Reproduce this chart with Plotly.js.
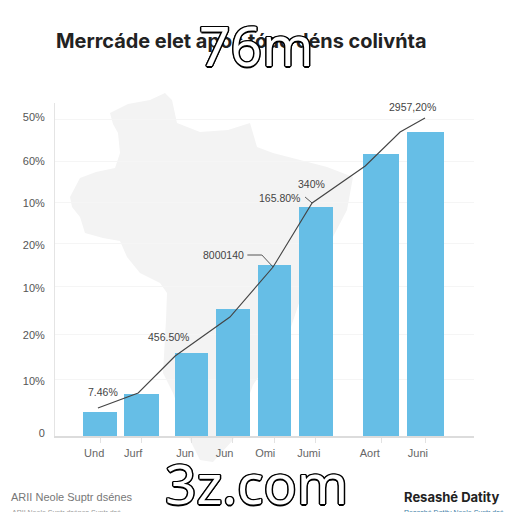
<!DOCTYPE html>
<html>
<head>
<meta charset="utf-8">
<script src="https://cdn.plot.ly/plotly-3.0.1.min.js"></script>
<style>html,body{margin:0;padding:0;background:#fff}#chart{width:512px;height:512px}</style>
</head>
<body>
<div id="chart"></div>
<script>
const W = 512;
const titleText = "Merrcáde elet apos tóao déns colivńta";
const categories = ["Und", "Jurf", "Jun", "Jun", "Omi", "Jumi", "Aort", "Juni"];
const barPositions = [1, 2, 3.2, 4.2, 5.2, 6.2, 7.78, 8.85];
const barWidths = [0.82, 0.82, 0.8, 0.82, 0.8, 0.82, 0.87, 0.89];
const barValues = [24, 42, 83, 127, 171, 229, 282, 304];
const labelPositions = [0.86, 1.8, 3.05, 4.0, 4.98, 6.03, 7.5, 8.66];
const lineX = [0.95, 1.92, 2.81, 4.13, 5.17, 6.11, 7.39, 8.23, 8.83];
const lineY = [28, 43, 80, 119, 169, 233, 270, 304, 318];
const gridValues = [57, 102, 150, 193, 234, 275, 317];
const yLabelValues = [3, 55, 101, 148, 191, 233, 275, 319];
const yLabels = ["0", "10%", "20%", "10%", "20%", "10%", "60%", "50%"];
const mapX = [165,150,128,110,113,118,120,115,96,80,70,72,80,85,103,120,127,140,160,167,166,165,163,173,183,190,200,213,233,253,270,285,300,337,347,353,327,273,257,250,228,200,177,172,165];
const mapY = [93,100,104,113,124,133,153,168,172,178,197,207,217,233,238,241,257,273,283,293,320,340,373,393,420,440,460,462,440,385,360,345,300,230,210,177,167,153,147,123,130,132,123,100,93];
const leaderA = {x:[4.55,4.9,5.17], y:[181,181,169]};
const leaderB = {x:[5.94,6.11], y:[239,233]};
const dataLabels = [
  {t:"7.46%", px:103, py:392},
  {t:"456.50%", px:168, py:337},
  {t:"8000140", px:223, py:255},
  {t:"165.80%", px:279, py:198},
  {t:"340%", px:311, py:184},
  {t:"2957,20%", px:412, py:107}
];

const labelAnn = dataLabels.map(d => ({
  text:d.t, xref:"paper", yref:"paper", x:d.px/W, y:1-d.py/W, showarrow:false,
  xanchor:"center", yanchor:"middle", font:{family:"Liberation Sans", size:10.5, color:"#444"}
}));
const outline = "1.5px 0 0 #000,-1.5px 0 0 #000,0 1.5px 0 #000,0 -1.5px 0 #000,1px 1px 0 #000,-1px 1px 0 #000,1px -1px 0 #000,-1px -1px 0 #000";
const mark = (t, px, py) => ({
  text:t, xref:"paper", yref:"paper", x:px/W, y:1-py/W, showarrow:false, xanchor:"center", yanchor:"middle",
  font:{family:"Noto Sans", size:55, color:"#fff", shadow:outline}
});
const foot = (t, px, py, size, color, family, bold) => ({
  text: bold ? "<b>"+t+"</b>" : t, xref:"paper", yref:"paper", x:px/W, y:1-py/W, showarrow:false,
  xanchor:"left", yanchor:"middle", font:{family:family, size:size, color:color}
});

const traces = [
  {type:"scatter", mode:"lines", x:mapX, y:mapY, xaxis:"x", yaxis:"y", fill:"toself",
   fillcolor:"#f3f3f3", line:{width:0, color:"#f3f3f3"}, hoverinfo:"skip", showlegend:false},
  {type:"bar", x:barPositions, y:barValues, width:barWidths, xaxis:"x2", yaxis:"y2",
   marker:{color:"#66bee6", line:{width:0}}, showlegend:false},
  {type:"scatter", mode:"lines", x:lineX, y:lineY, xaxis:"x2", yaxis:"y2",
   line:{color:"#444", width:1.1}, showlegend:false},
  {type:"scatter", mode:"lines", x:leaderA.x, y:leaderA.y, xaxis:"x2", yaxis:"y2",
   line:{color:"#444", width:0.9}, showlegend:false},
  {type:"scatter", mode:"lines", x:leaderB.x, y:leaderB.y, xaxis:"x2", yaxis:"y2",
   line:{color:"#444", width:0.9}, showlegend:false}
];

const layout = {
  width:512, height:512, margin:{l:0,r:0,t:0,b:0}, paper_bgcolor:"#fff", plot_bgcolor:"rgba(0,0,0,0)",
  showlegend:false, bargap:0,
  title:{text:"<b>"+titleText+"</b>", x:56/W, xanchor:"left", y:1-41/W, yanchor:"middle",
         font:{family:"Inter", size:19.9, color:"#222"}},
  xaxis:{domain:[0,1], range:[0,512], visible:false, fixedrange:true},
  yaxis:{domain:[0,1], range:[512,0], visible:false, fixedrange:true},
  xaxis2:{domain:[55/W,474/W], range:[-0.084,10.01], anchor:"y2",
    tickmode:"array", tickvals:labelPositions, ticktext:categories, ticks:"", showgrid:false,
    zeroline:false, showline:true, linecolor:"#dcdcdc", linewidth:1.5,
    tickfont:{family:"Liberation Sans", size:11, color:"#666"}, ticklabelstandoff:6,
    minor:{tickmode:"array", tickvals:barPositions, ticks:"outside", ticklen:5, tickcolor:"#e2e2e2", tickwidth:1, showgrid:false}},
  yaxis2:{domain:[(W-436)/W,(W-103)/W], range:[0,333], anchor:"x2",
    tickmode:"array", tickvals:yLabelValues, ticktext:yLabels, ticks:"", showgrid:false,
    zeroline:false, showline:true, linecolor:"#e4e4e4", linewidth:1,
    tickfont:{family:"Liberation Sans", size:11, color:"#555"}, ticklabelstandoff:7,
    minor:{tickmode:"array", tickvals:gridValues, ticks:"", showgrid:true, gridcolor:"#f5f5f5", gridwidth:1}},
  annotations:[
    ...labelAnn,
    foot("ARII Neole Suptr dsénes", 9, 497, 11, "#777", "Liberation Sans", false),
    foot("Resashé Datity", 402, 497, 13, "#222", "Inter", true),
    foot("ARII Neole Suptr dsénes Suptr dsé", 10, 513, 7, "#999", "Liberation Sans", false),
    foot("Resashé Datity Neole Suptr dsé", 402, 513, 7, "#3a7ca5", "Liberation Sans", false),
    mark("76m", 256, 44),
    mark("3z.com", 256, 482)
  ]
};
Plotly.newPlot("chart", traces, layout, {displayModeBar:false, staticPlot:true});
</script>
</body>
</html>
